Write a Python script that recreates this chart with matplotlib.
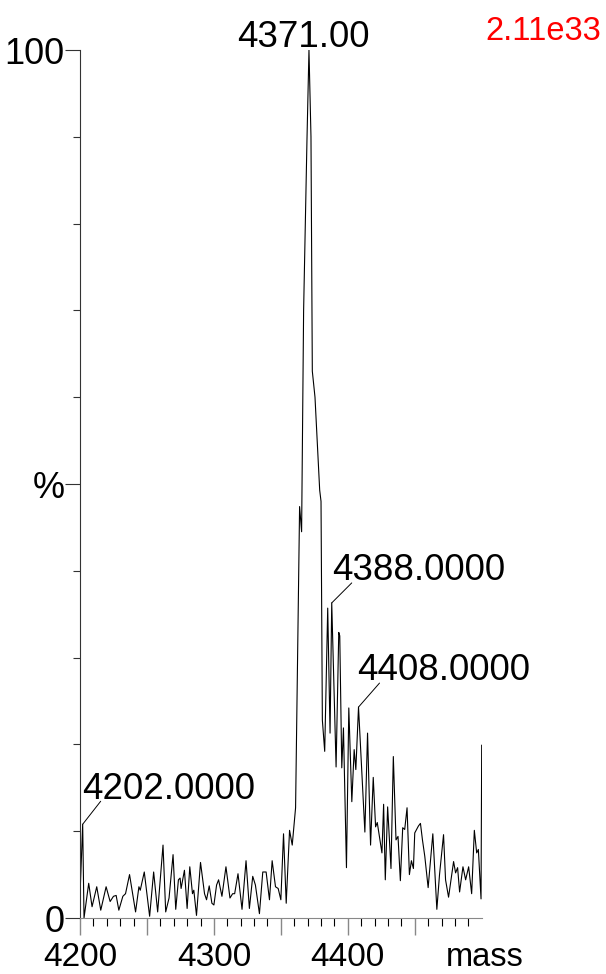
import numpy as np
import matplotlib
matplotlib.use('Agg')
from matplotlib import pyplot as plt
from matplotlib.ticker import MultipleLocator, FixedLocator

plt.rcParams['font.family'] = ['Liberation Sans', 'DejaVu Sans']

# spectrum trace, mass vs relative intensity (%)
mass = [4200, 4202, 4203, 4206.5, 4209, 4212.5, 4215.5, 4219.5, 4222.5, 4225, 4227,
        4229, 4232, 4234, 4237, 4241.5, 4244, 4245, 4248, 4252, 4255, 4258, 4262,
        4264, 4266.5, 4269.5, 4271.5, 4273.5, 4274.75, 4275.5, 4278, 4280, 4282,
        4284, 4285, 4287, 4290, 4293, 4294.5, 4296.5, 4298.5, 4300, 4302, 4303.5,
        4306, 4309, 4312, 4314, 4315.5, 4318, 4321, 4324, 4326.5, 4329, 4331,
        4334, 4336.5, 4339, 4341.5, 4343.5, 4346, 4348, 4350, 4352, 4354, 4356.5,
        4358.5, 4361, 4364, 4365.5, 4367, 4369.5, 4371, 4372.5, 4373.5, 4375.5,
        4379, 4380, 4381, 4382.75, 4385, 4386.75, 4388, 4391.25, 4393.25, 4394,
        4395.5, 4396.75, 4399, 4400.75, 4403, 4404.75, 4406, 4408, 4412.75,
        4414.75, 4417, 4419, 4420.75, 4422, 4423.5, 4425.5, 4426.75, 4428,
        4429.75, 4432.25, 4434, 4436, 4437.5, 4439.25, 4441, 4442.5, 4444.25,
        4446, 4447.5, 4449, 4450, 4452.75, 4454.25, 4455.75, 4457.5, 4460,
        4463.5, 4466.5, 4468.5, 4471.5, 4473, 4475.25, 4479, 4480.5, 4482,
        4483.5, 4486, 4488, 4490.25, 4492.5, 4494.5, 4496.25, 4497.5, 4499.5,
        4500]
intensity = [2.6, 10.8, 0.0, 4.0, 1.3, 3.6, 0.9, 3.6, 1.9, 2.5, 2.6,
             0.9, 2.5, 2.8, 5.0, 0.7, 3.6, 3.2, 5.3, 0.2, 5.3, 0.7, 8.4,
             0.7, 2.3, 7.3, 1.0, 4.4, 4.6, 3.4, 5.5, 1.1, 5.9,
             2.8, 3.2, 0.3, 6.4, 2.8, 2.1, 3.7, 1.7, 1.5, 3.8, 4.4,
             2.5, 5.9, 2.3, 2.8, 2.8, 5.1, 1.0, 6.6, 1.1, 4.8, 3.8,
             0.5, 5.3, 5.3, 2.1, 6.6, 3.6, 3.4, 2.1, 9.7, 1.7, 10.1,
             8.4, 12.7, 47.4, 44.5, 70.0, 89.6, 100.0, 90.0, 63.0, 60.0,
             49.3, 48.0, 22.8, 19.2, 35.7, 21.3, 36.3, 17.4, 32.9, 32.5,
             17.3, 21.9, 5.8, 24.2, 13.4, 19.4, 17.1, 24.3, 9.9,
             21.3, 8.4, 16.2, 10.5, 11.0, 9.5, 7.5, 13.1, 4.4,
             12.8, 5.7, 18.6, 9.0, 9.4, 4.3, 10.4, 10.2, 12.7,
             5.0, 6.6, 5.7, 9.8, 10.6, 10.9, 9.0, 7.1, 3.5,
             9.7, 1.0, 5.0, 9.6, 4.4, 2.4, 6.5, 5.2, 5.8,
             3.0, 5.9, 4.4, 5.9, 2.8, 10.1, 7.5, 7.9, 2.2,
             19.9]

# labelled peaks: mass, label text, (line dx, dy), (text dx, dy) in pixels
peak_mass = [4202, 4371, 4388, 4408]
peak_labels = ['4202.0000', '4371.00', '4388.0000', '4408.0000']
line_offsets = [(18, 23), None, (20, 20), (21, 24)]
text_offsets = [(-1, 25), (-6, 3), (0, 23), (-1, 27)]

W, H = 606, 974
fig = plt.figure(figsize=(W / 100, H / 100), dpi=100)
ax = fig.add_axes([80 / W, 1 - 918 / H, (481.7 - 80) / W, (918 - 50) / H])

ax.plot(mass, intensity, color='black', lw=0.8)

ax.set_xlim(4200, 4500)
ax.set_ylim(0, 100)

for s in ['top', 'right']:
    ax.spines[s].set_visible(False)
ax.spines['left'].set_color('#333333')
ax.spines['bottom'].set_color('#888888')
ax.spines['left'].set_linewidth(0.8)
ax.spines['bottom'].set_linewidth(0.8)

# x ticks: long grey every 50, short black every 10, labels every 100
ax.xaxis.set_major_locator(FixedLocator([4200, 4250, 4300, 4350, 4400, 4450]))
ax.set_xticklabels(['4200', '', '4300', '', '4400', ''])
ax.xaxis.set_minor_locator(FixedLocator([m for m in range(4210, 4500, 10) if m % 50]))
ax.tick_params(axis='x', which='major', length=12, width=1.0, color='#888888',
               labelsize=24, pad=5)
ax.tick_params(axis='x', which='minor', length=6, width=0.8, color='black')

# y ticks: 0, %, 100 with short ticks every 10
ax.yaxis.set_major_locator(FixedLocator([0, 50, 100]))
ax.set_yticklabels(['0', '%', '100'])
ax.yaxis.set_minor_locator(MultipleLocator(10))
ax.tick_params(axis='y', which='major', length=11, width=0.8, color='#333333',
               labelsize=26, pad=0)
ax.tick_params(axis='y', which='minor', length=5, width=0.8, color='#333333')

for m, lab, lo, to in zip(peak_mass, peak_labels, line_offsets, text_offsets):
    v = intensity[mass.index(m)]
    if lo is not None:
        ax.annotate('', xy=(m, v), xytext=lo, textcoords='offset pixels',
                    arrowprops=dict(arrowstyle='-', lw=0.7, color='black',
                                    shrinkA=0, shrinkB=0))
    ha = 'center' if lo is None else 'left'
    ax.annotate(lab, xy=(m, v), xytext=to, textcoords='offset pixels',
                ha=ha, va='baseline', fontsize=26.5, annotation_clip=False)

fig.text(485 / W, 1 - 32 / H, '2.11e33', color='red', fontsize=23.5, va='center')
fig.text(485 / W, 1 - 966 / H, 'mass', fontsize=23.5, ha='center', va='baseline')

fig.savefig('out.png', dpi=100)
